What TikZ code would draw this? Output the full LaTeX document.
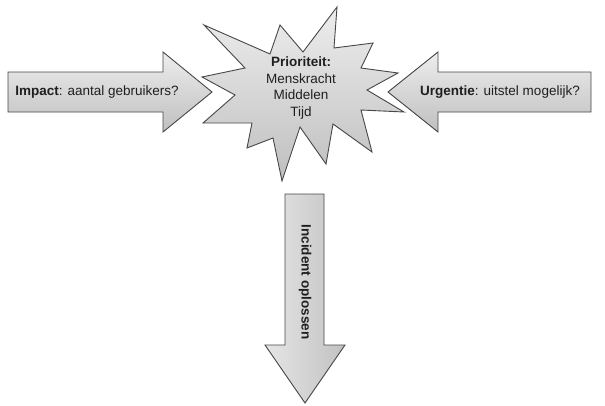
\documentclass[tikz,border=0pt]{standalone}
\usepackage{fontspec}
\setmainfont{Liberation Sans}
\begin{document}
\begin{tikzpicture}[x=1pt,y=-1pt,
  shapeline/.style={draw=black!72,line width=0.9pt,line join=miter},
  vshade/.style={top color=black!7,bottom color=black!25},
  hshade/.style={left color=black!10,right color=black!24},
  lbl/.style={font=\fontsize{13.5}{16.5}\selectfont,text=black!88,inner sep=0pt,align=center}]
\useasboundingbox (0,0) rectangle (605,405);
% left arrow
\path[shapeline,vshade] (8,72) -- (163,72) -- (163,52) -- (212,92) -- (163,132) -- (163,112) -- (8,112) -- cycle;
% right arrow
\path[shapeline,vshade] (591,72) -- (438,72) -- (438,52) -- (388,92) -- (438,132) -- (438,112) -- (591,112) -- cycle;
% down arrow
\path[shapeline,hshade] (285,194) -- (324,194) -- (324,345) -- (345,345) -- (305,403) -- (265,345) -- (285,345) -- cycle;
% star
\path[shapeline,vshade] (337,7) -- (334,48) -- (373,43) -- (361,68) -- (398,73) -- (367,90)
  -- (404,112) -- (361,110) -- (372,152) -- (333,124) -- (326,164) -- (300,127)
  -- (282,181) -- (273,138) -- (247,148) -- (252,123) -- (203,123) -- (235,95)
  -- (202,77) -- (245,68) -- (204,25) -- (270,54) -- (280,25) -- (303,52) -- cycle;
% texts
\node[lbl] (impact) at (97,92) {\textbf{Impact}: aantal gebruikers?};
\node[lbl] (urgentie) at (500,92) {\textbf{Urgentie}: uitstel mogelijk?};
\node[lbl] (prio) at (301,88) {\textbf{Prioriteit:}\\Menskracht\\Middelen\\Tijd};
\node[lbl,rotate=-90] (incident) at (305,282) {\textbf{Incident oplossen}};
\end{tikzpicture}
\end{document}
